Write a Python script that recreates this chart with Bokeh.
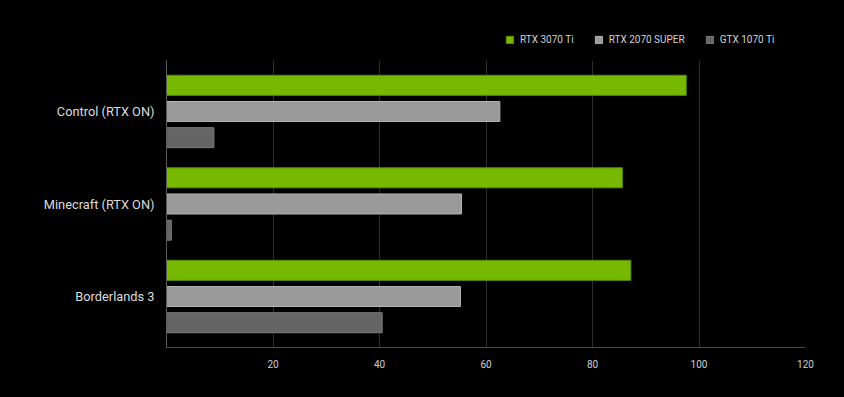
from bokeh.plotting import figure
from bokeh.layouts import column
from bokeh.models import ColumnDataSource, FactorRange, Range1d, FixedTicker, Legend, LegendItem
from bokeh.transform import dodge
from bokeh.embed import file_html
from bokeh.resources import INLINE

games = ["Control (RTX ON)", "Minecraft (RTX ON)", "Borderlands 3"]
rtx3070ti = [97.6, 85.6, 87.2]
rtx2070super = [62.6, 55.4, 55.2]
gtx1070ti = [8.9, 0.9, 40.5]
series_names = ["RTX 3070 Ti", "RTX 2070 SUPER", "GTX 1070 Ti"]
x_ticks = [20, 40, 60, 80, 100, 120]

src = ColumnDataSource(dict(game=games, a=rtx3070ti, b=rtx2070super, c=gtx1070ti))

fills = ["#76b900", "#9a9a9a", "#656565"]
lines = ["#5c9200", "#b4b4b4", "#7c7c7c"]
offsets = [0.283, 0.0, -0.283]
cols = ["a", "b", "c"]
black_bg = {"background-color": "#000000"}

# main chart
p = figure(width=844, height=347, output_backend="svg", toolbar_location=None,
           y_range=FactorRange(factors=list(reversed(games)), range_padding=0.034),
           x_range=Range1d(0, 120),
           min_border_left=166, min_border_right=39, min_border_top=10, min_border_bottom=50)
p.background_fill_color = "#000000"
p.border_fill_color = "#000000"
p.outline_line_color = None
p.styles = black_bg

for col, off, fc, lc in zip(cols, offsets, fills, lines):
    p.hbar(y=dodge("game", off, range=p.y_range), left=0, right=col, height=0.216,
           source=src, fill_color=fc, line_color=lc, line_width=1)

p.xaxis.ticker = FixedTicker(ticks=x_ticks)
p.xaxis.axis_line_color = "#4a4a4a"
p.xaxis.major_tick_line_color = None
p.xaxis.minor_tick_line_color = None
p.xaxis.major_label_text_color = "#cfcfcf"
p.xaxis.major_label_text_font = "Roboto"
p.xaxis.major_label_text_font_size = "10px"
p.xaxis.major_label_standoff = 6

p.yaxis.axis_line_color = "#5a5a5a"
p.yaxis.major_tick_line_color = None
p.yaxis.minor_tick_line_color = None
p.yaxis.major_label_text_color = "#dcdcdc"
p.yaxis.major_label_text_font = "Roboto"
p.yaxis.major_label_text_font_size = "12.8px"
p.yaxis.major_label_standoff = 6

p.xgrid.grid_line_color = "#2e2e2e"
p.ygrid.grid_line_color = None

# legend strip on top (its frame is aligned with the main chart's frame)
lf = figure(width=844, height=50, output_backend="svg", toolbar_location=None,
            x_axis_location=None, y_axis_location=None, min_border=0,
            x_range=Range1d(-2, -1), y_range=FactorRange(factors=list(reversed(games))))
lf.background_fill_color = "#000000"
lf.border_fill_color = "#000000"
lf.outline_line_color = None
lf.grid.grid_line_color = None
lf.styles = black_bg
leg_renderers = []
for col, off, fc, lc in zip(cols, offsets, fills, lines):
    r = lf.hbar(y=dodge("game", off, range=lf.y_range), left=0, right=col, height=0.216,
                source=src, fill_color=fc, line_color=lc, line_width=1, visible=False)
    leg_renderers.append(r)

legend = Legend(items=[LegendItem(label=n, renderers=[r]) for n, r in zip(series_names, leg_renderers)],
                orientation="horizontal", location=(339, 5),
                background_fill_alpha=0, border_line_color=None,
                label_text_color="#d0d0d0", label_text_font="Roboto", label_text_font_size="10px",
                glyph_width=9, glyph_height=9, label_standoff=6, spacing=20, padding=0,
                label_height=10, margin=0)
lf.add_layout(legend, "center")

layout = column(lf, p, spacing=0)
layout.styles = black_bg
open("out.html", "w").write(file_html(layout, INLINE))
